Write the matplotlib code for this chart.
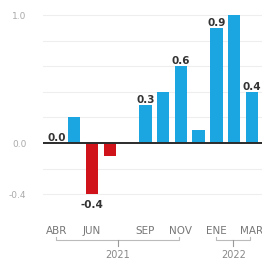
import matplotlib
matplotlib.use('Agg')
import matplotlib.pyplot as plt
import matplotlib.transforms as mtransforms

# Monthly values (Apr 2021 - Mar 2022)
months = ['ABR', 'MAY', 'JUN', 'JUL', 'AGO', 'SEP', 'OCT', 'NOV', 'DIC', 'ENE', 'FEB', 'MAR']
values = [0.0, 0.2, -0.4, -0.1, 0.0, 0.3, 0.4, 0.6, 0.1, 0.9, 1.0, 0.4]
labeled_months = ['ABR', 'JUN', 'SEP', 'NOV', 'ENE', 'MAR']
ytick_values = [1.0, 0.0, -0.4]
ytick_labels = ['1.0', '0.0', '-0.4']
years = ['2021', '2022']
year_spans = [(0.0, 6.9), (9.0, 10.9)]

blue = '#1ba6e2'
red = '#d0121b'

fig = plt.figure(figsize=(2.62, 2.63), dpi=100)
ax = fig.add_axes([0.164, 0.237, 0.836, 0.730])

x = list(range(len(months)))
colors = [blue if v >= 0 else red for v in values]
ax.bar(x, values, width=0.7, color=colors, zorder=2)

ax.set_xlim(-0.76, 11.57)
ax.set_ylim(-0.45, 1.05)

# faint grid
for g in [-0.4, -0.2, 0.2, 0.4, 0.6, 0.8, 1.0]:
    ax.axhline(g, color='#eeeeee', lw=0.8, zorder=0)
ax.axhline(0, color='#2b2b2b', lw=1.4, zorder=3)

# value labels on every other month
for i, m in enumerate(months):
    if m not in labeled_months:
        continue
    v = values[i]
    if v >= 0:
        ax.annotate(f'{v:.1f}', (i, v), xytext=(0, 0), textcoords='offset points',
                    ha='center', va='bottom', fontsize=7.5, fontweight='bold',
                    color='#333333', zorder=4)
    else:
        ax.annotate(f'{v:.1f}', (i, v), xytext=(0, -4), textcoords='offset points',
                    ha='center', va='top', fontsize=7.5, fontweight='bold',
                    color='#333333', zorder=4)

ax.set_yticks(ytick_values)
ax.set_yticklabels(ytick_labels, fontsize=6.5, color='#aaaaaa')
ax.set_xticks([months.index(m) for m in labeled_months])
ax.set_xticklabels(labeled_months, fontsize=7.5, color='#777777')
ax.tick_params(axis='both', length=0)
ax.tick_params(axis='x', pad=18)
ax.tick_params(axis='y', pad=12)
for s in ax.spines.values():
    s.set_visible(False)

# year brackets below the month labels
trans = mtransforms.blended_transform_factory(ax.transData, ax.transAxes)
for yr, (a, b) in zip(years, year_spans):
    c = (a + b) / 2
    ax.plot([a, a, b, b], [-0.19, -0.205, -0.205, -0.19], color='#bbbbbb', lw=0.8,
            transform=trans, clip_on=False)
    ax.plot([c, c], [-0.205, -0.235], color='#999999', lw=0.8,
            transform=trans, clip_on=False)
    ax.text(c, -0.282, yr, transform=trans, ha='center', va='center',
            fontsize=7, color='#888888')

fig.savefig('out.png', dpi=100)
